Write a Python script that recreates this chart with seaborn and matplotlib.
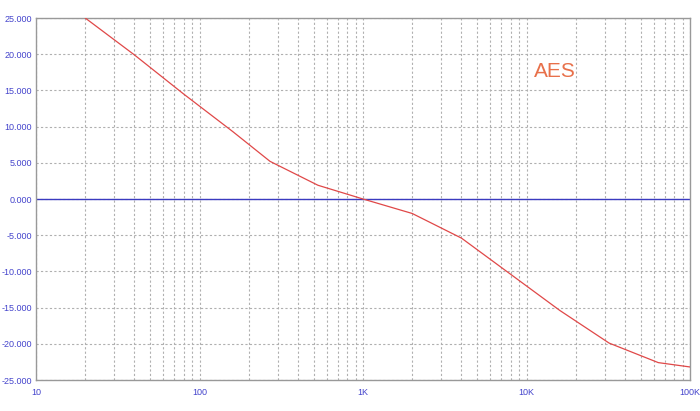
import pandas as pd
import matplotlib
matplotlib.use("Agg")
import matplotlib.pyplot as plt
from matplotlib.ticker import FixedLocator, LogLocator, NullFormatter
import seaborn as sns

# response curve
freq_hz = [20, 40, 80, 160, 270, 530, 1000, 2000, 4000, 8000, 16000, 32000, 64000, 100000]
level_db = [25.0, 19.9, 14.5, 9.3, 5.2, 1.9, 0.0, -2.0, -5.4, -10.4, -15.4, -19.9, -22.6, -23.2]

x_ticks = [10, 100, 1000, 10000, 100000]
x_labels = ["10", "100", "1K", "10K", "100K"]
y_ticks = [-25, -20, -15, -10, -5, 0, 5, 10, 15, 20, 25]

data = pd.DataFrame({"Frequency": freq_hz, "Level": level_db})

sns.set_style("white")
plt.rcParams["font.family"] = ["Liberation Sans", "DejaVu Sans"]

fig = plt.figure(figsize=(7, 4.11), dpi=100)
ax = fig.add_axes([36 / 700, 1 - 380 / 411, 654 / 700, 362 / 411])

ax.set_xscale("log")
ax.set_xlim(10, 100000)
ax.set_ylim(-25, 25)

# grid: dashed gray, minor lines on the log axis too
ax.xaxis.set_major_locator(FixedLocator(x_ticks))
ax.xaxis.set_minor_locator(LogLocator(base=10, subs=range(2, 10)))
ax.xaxis.set_minor_formatter(NullFormatter())
ax.set_xticklabels(x_labels)
ax.set_yticks(y_ticks)
ax.set_yticklabels([f"{v:.3f}" for v in y_ticks])
ax.grid(which="both", axis="x", color="#b0b0b0", ls=(0, (2, 2)), lw=0.8)
ax.grid(which="major", axis="y", color="#b0b0b0", ls=(0, (2, 2)), lw=0.8)

ax.axhline(0, color="#3a3ac0", lw=1.0, zorder=2)

sns.lineplot(data=data, x="Frequency", y="Level", ax=ax, color="#e04848", lw=0.9, zorder=3)

ax.set_xlabel("")
ax.set_ylabel("")
ax.tick_params(which="both", length=0, colors="#4444cc", labelsize=6.5, pad=3)
ax.tick_params(axis="x", pad=6)
for s in ax.spines.values():
    s.set_color("#999999")
    s.set_linewidth(1.0)

ax.text(0.794, 0.851, "AES", transform=ax.transAxes, color="#e8704a",
        fontsize=15, ha="center", va="center", family=["Liberation Sans", "DejaVu Sans"])

fig.savefig("out.png", dpi=100)
